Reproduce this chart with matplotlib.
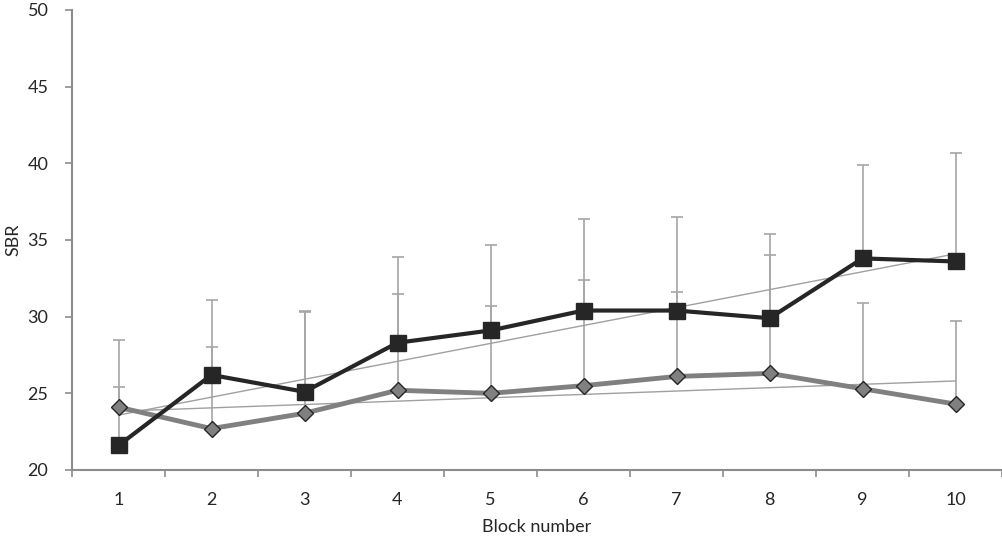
import numpy as np
import matplotlib
matplotlib.use("Agg")
import matplotlib.pyplot as plt

plt.rcParams['font.family'] = ['Lato', 'DejaVu Sans']

blocks = [1, 2, 3, 4, 5, 6, 7, 8, 9, 10]
black_vals = [21.6, 26.2, 25.1, 28.3, 29.1, 30.4, 30.4, 29.9, 33.8, 33.6]
black_top = [28.5, 31.1, 30.4, 33.9, 34.7, 36.4, 36.5, 35.4, 39.9, 40.7]
gray_vals = [24.1, 22.7, 23.7, 25.2, 25.0, 25.5, 26.1, 26.3, 25.3, 24.3]
gray_top = [25.4, 28.0, 30.3, 31.5, 30.7, 32.4, 31.6, 34.0, 30.9, 29.7]
yticks = [20, 25, 30, 35, 40, 45, 50]

fig = plt.figure(figsize=(10.03, 5.43), dpi=100)
ax = fig.add_axes([72/1003, 1 - 470/543, 930/1003, 460/543])

x = np.array(blocks, dtype=float)
bv = np.array(black_vals); gv = np.array(gray_vals)
berr = np.array(black_top) - bv
gerr = np.array(gray_top) - gv

ecol = '#a6a6a6'
ax.errorbar(x, bv, yerr=[np.zeros_like(berr), berr], fmt='none', ecolor=ecol,
            elinewidth=1.2, capsize=4, capthick=1.2, zorder=1)
ax.errorbar(x, gv, yerr=[np.zeros_like(gerr), gerr], fmt='none', ecolor=ecol,
            elinewidth=1.2, capsize=4, capthick=1.2, zorder=1)

# linear trend lines
for vals in (bv, gv):
    p = np.polyfit(x, vals, 1)
    ax.plot([x[0], x[-1]], np.polyval(p, [x[0], x[-1]]), color='#a0a0a0', lw=1.0, zorder=2)

ax.plot(x, gv, color='#808080', lw=3.5, marker='D', markersize=8,
        markerfacecolor='#808080', markeredgecolor='#262626', markeredgewidth=1.0, zorder=3)
ax.plot(x, bv, color='#262626', lw=3.0, marker='s', markersize=12,
        markerfacecolor='#262626', markeredgecolor='#262626', zorder=4)

ax.set_xlim(0.5, 10.5)
ax.set_ylim(20, 50)
ax.set_yticks(yticks)
ax.set_yticklabels([str(t) for t in yticks])
ax.set_xticks(x)
ax.set_xticklabels([str(b) for b in blocks])
ax.set_xticks(np.arange(0.5, 11.0, 1.0), minor=True)
ax.tick_params(axis='x', which='major', length=0, pad=16, labelsize=13, colors='#262626')
ax.tick_params(axis='x', which='minor', length=5, width=1.2, color='#8c8c8c', direction='out')
ax.tick_params(axis='y', length=5, width=1.2, color='#8c8c8c', pad=12, labelsize=13,
               labelcolor='#262626', direction='out')

for s in ('top', 'right'):
    ax.spines[s].set_visible(False)
for s in ('left', 'bottom'):
    ax.spines[s].set_color('#8c8c8c')
    ax.spines[s].set_linewidth(1.5)

ax.set_xlabel('Block number', fontsize=13, color='#262626', labelpad=8)
ax.set_ylabel('SBR', fontsize=13, color='#262626', labelpad=4)

fig.savefig('out.png', dpi=100)
